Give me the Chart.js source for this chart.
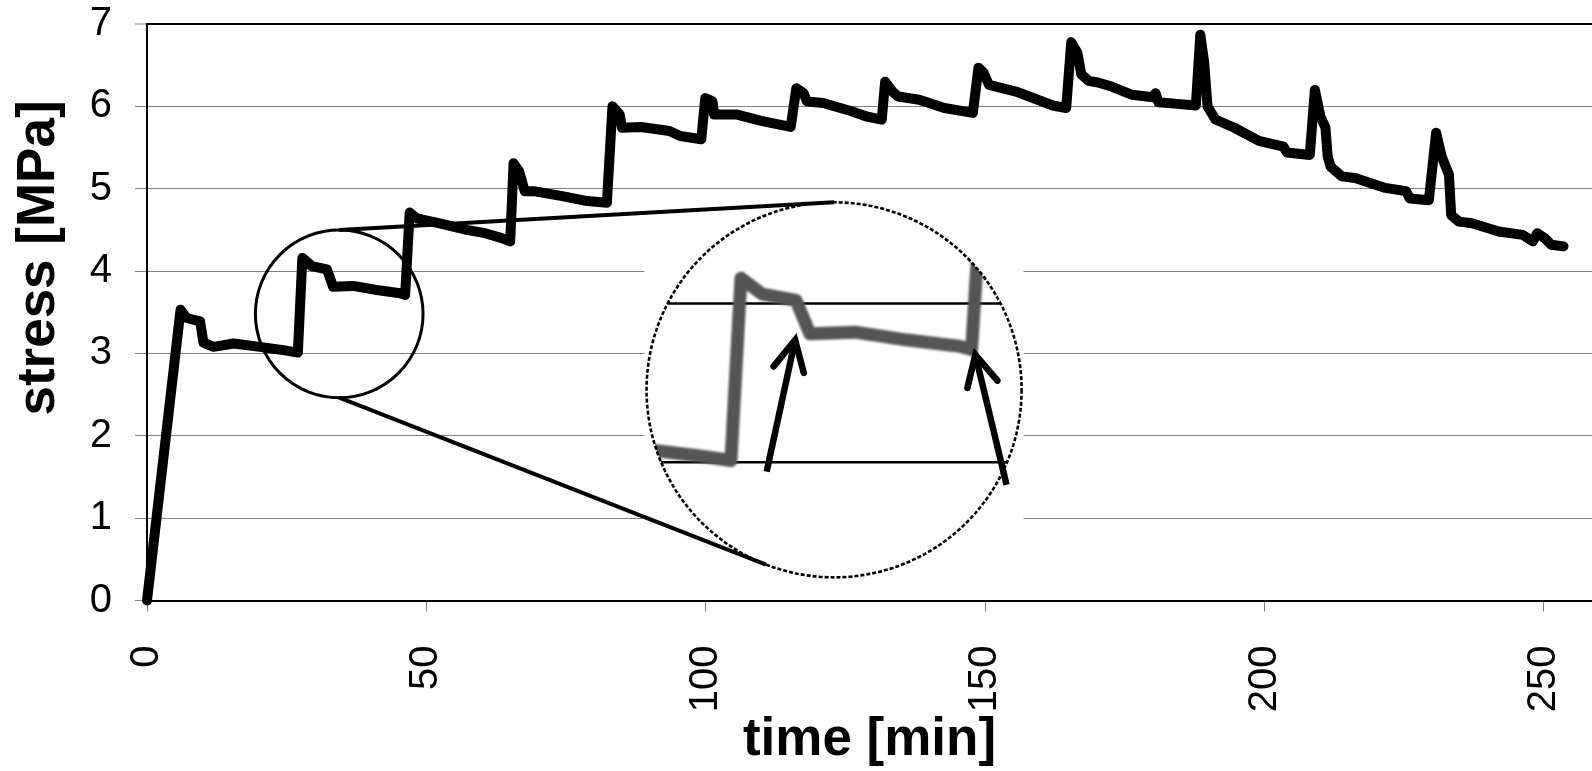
<!DOCTYPE html>
<html>
<head>
<meta charset="utf-8">
<title>stress vs. time</title>
<script src="https://cdn.jsdelivr.net/npm/chart.js@4.4.1/dist/chart.umd.min.js"></script>
<style>
  html, body { margin: 0; padding: 0; background: #fff; }
  #wrap { width: 1592px; height: 771px; }
</style>
</head>
<body>
<div id="wrap"><canvas id="chart" width="1592" height="771"></canvas></div>
<script>
// Stepwise loading record: time [min] against stress [MPa]
const timeMin = [
  0, 6.0, 7.1, 9.5, 10.1, 11.9, 15.5, 20.2, 24.4, 27.0,
  27.8, 29.5, 32.2, 33.3, 36.9, 41.1, 45.3, 46.2,
  47.0, 48.3, 52.4, 57.2, 60.5, 63.5, 65.0,
  65.6, 66.6, 67.6, 69.2, 74.3, 78.8, 82.3,
  83.3, 84.6, 85.0, 88.4, 93.5, 95.4, 99.2,
  99.9, 101.2, 101.5, 105.6, 110.1, 115.2,
  116.2, 117.5, 118.1, 121.0, 126.1, 128.6, 131.5,
  132.1, 133.4, 134.4, 138.2, 142.7, 147.8,
  148.8, 149.7, 150.7, 155.5, 159.4, 162.1, 164.5,
  165.4, 166.5, 167.2, 168.5, 170.2, 172.6, 176.3, 180.0, 180.5, 181.0, 184.4, 187.7,
  188.5, 189.2, 189.8, 191.2, 194.6, 199.0, 203.4, 204.0, 208.1,
  209.0, 210.0, 210.9, 211.3, 211.8, 213.8, 216.2, 221.6, 225.3, 226.0, 229.4,
  230.7, 231.7, 233.0, 233.4, 234.8, 237.1, 241.9, 246.2, 248.0, 248.8, 250.3, 251.3, 253.5
];
const stressMPa = [
  0, 3.53, 3.43, 3.39, 3.13, 3.08, 3.12, 3.08, 3.04, 3.01,
  4.16, 4.06, 4.02, 3.81, 3.82, 3.77, 3.73, 3.71,
  4.71, 4.64, 4.58, 4.50, 4.46, 4.40, 4.36,
  5.31, 5.21, 4.97, 4.97, 4.91, 4.85, 4.83,
  6.00, 5.90, 5.74, 5.75, 5.70, 5.64, 5.60,
  6.10, 6.06, 5.90, 5.90, 5.82, 5.75,
  6.22, 6.16, 6.06, 6.04, 5.94, 5.88, 5.84,
  6.30, 6.18, 6.12, 6.08, 5.98, 5.92,
  6.47, 6.41, 6.26, 6.18, 6.08, 6.01, 5.98,
  6.78, 6.65, 6.39, 6.31, 6.29, 6.24, 6.14, 6.11, 6.16, 6.05, 6.03, 6.01,
  6.87, 6.53, 6.00, 5.84, 5.74, 5.58, 5.51, 5.44, 5.41,
  6.20, 5.88, 5.74, 5.39, 5.27, 5.15, 5.13, 5.01, 4.97, 4.88, 4.86,
  5.68, 5.39, 5.17, 4.68, 4.60, 4.58, 4.48, 4.44, 4.36, 4.46, 4.39, 4.32, 4.30
];
const xTickValues = [0, 50, 100, 150, 200, 250];
const yTickValues = [0, 1, 2, 3, 4, 5, 6, 7];
const xTitle = 'time [min]';
const yTitle = 'stress [MPa]';

// Magnifier callout: a small circle on the curve, enlarged into a big circle.
// Positions are in data units (minutes / MPa); radii in minutes.
const lens = {
  source: { t: 34.4, s: 3.48, r: 15.0 },
  view:   { t: 122.96, s: 2.558, r: 33.56 },
  anchor: { t: 121.1, s: 2.604 },
  zoom:   { x: 2.243, y: 1.925 },
  grid:   [3, 4],
  lowerEdgeDeg: 111.3,
  arrows: [
    { from: [29.85, 2.94],  to: [32.12, 3.77] },
    { from: [48.99, 2.857], to: [46.5, 3.677] }
  ]
};

const FONT = "'Liberation Sans', Arial, Helvetica, sans-serif";
Chart.defaults.font.family = FONT;
Chart.defaults.color = '#000';

function lensGeometry(chart) {
  const xs = chart.scales.x, ys = chart.scales.y;
  const pxPerMin = xs.getPixelForValue(1) - xs.getPixelForValue(0);
  const src = { x: xs.getPixelForValue(lens.source.t), y: ys.getPixelForValue(lens.source.s), r: lens.source.r * pxPerMin };
  const view = { x: xs.getPixelForValue(lens.view.t), y: ys.getPixelForValue(lens.view.s), r: lens.view.r * pxPerMin };
  const anc = { x: xs.getPixelForValue(lens.anchor.t), y: ys.getPixelForValue(lens.anchor.s) };
  const map = (t, s) => ({
    x: anc.x + (xs.getPixelForValue(t) - src.x) * lens.zoom.x,
    y: anc.y + (ys.getPixelForValue(s) - src.y) * lens.zoom.y
  });
  return { src, view, map };
}

const lensPlugin = {
  id: 'lens',
  beforeDatasetsDraw(chart) {
    const ctx = chart.ctx;
    const g = lensGeometry(chart);
    const v = g.view;
    ctx.save();
    // blank patch behind the enlarged view
    ctx.fillStyle = '#fff';
    ctx.fillRect(v.x - v.r - 2, v.y - v.r - 3, 2 * v.r + 4, 2 * v.r + 6);
    ctx.beginPath();
    ctx.arc(v.x, v.y, v.r, 0, Math.PI * 2);
    ctx.clip();
    // enlarged grid lines
    ctx.strokeStyle = '#000';
    ctx.lineWidth = 2.5;
    lens.grid.forEach(s => {
      const y = g.map(0, s).y;
      ctx.beginPath();
      ctx.moveTo(v.x - v.r, y);
      ctx.lineTo(v.x + v.r, y);
      ctx.stroke();
    });
    // enlarged curve
    ctx.filter = 'blur(0.8px)';
    ctx.strokeStyle = '#555555';
    ctx.lineWidth = 13;
    ctx.lineJoin = 'round';
    ctx.lineCap = 'round';
    ctx.beginPath();
    timeMin.forEach((t, i) => {
      const p = g.map(t, stressMPa[i]);
      if (i === 0) ctx.moveTo(p.x, p.y); else ctx.lineTo(p.x, p.y);
    });
    ctx.stroke();
    ctx.filter = 'none';
    ctx.restore();

    // dotted rim
    ctx.save();
    ctx.setLineDash([4, 2]);
    ctx.lineWidth = 2.6;
    ctx.strokeStyle = '#000';
    ctx.beginPath();
    ctx.arc(v.x, v.y, v.r, 0, Math.PI * 2);
    ctx.stroke();
    ctx.restore();

    // arrows inside the enlarged view
    ctx.save();
    ctx.strokeStyle = '#000';
    ctx.lineWidth = 6.5;
    const L = 34, spread = 27 * Math.PI / 180;
    lens.arrows.forEach(a => {
      const p0 = g.map(a.from[0], a.from[1]);
      const p1 = g.map(a.to[0], a.to[1]);
      const ang = Math.atan2(p1.y - p0.y, p1.x - p0.x);
      ctx.lineCap = 'butt';
      ctx.beginPath();
      ctx.moveTo(p0.x, p0.y);
      ctx.lineTo(p1.x, p1.y);
      ctx.stroke();
      ctx.lineJoin = 'miter';
      ctx.lineCap = 'round';
      ctx.beginPath();
      ctx.moveTo(p1.x - L * Math.cos(ang - spread), p1.y - L * Math.sin(ang - spread));
      ctx.lineTo(p1.x, p1.y);
      ctx.lineTo(p1.x - L * Math.cos(ang + spread), p1.y - L * Math.sin(ang + spread));
      ctx.stroke();
    });
    ctx.restore();
  },
  afterDatasetsDraw(chart) {
    const ctx = chart.ctx;
    const g = lensGeometry(chart);
    const s = g.src, v = g.view;
    ctx.save();
    ctx.strokeStyle = '#000';
    ctx.lineWidth = 3;
    ctx.beginPath();
    ctx.arc(s.x, s.y, s.r, 0, Math.PI * 2);
    ctx.stroke();
    ctx.lineWidth = 4;
    const a = lens.lowerEdgeDeg * Math.PI / 180;
    ctx.beginPath();
    ctx.moveTo(s.x, s.y - s.r);
    ctx.lineTo(v.x, v.y - v.r);
    ctx.moveTo(s.x, s.y + s.r);
    ctx.lineTo(v.x + v.r * Math.cos(a), v.y + v.r * Math.sin(a));
    ctx.stroke();
    ctx.restore();
  }
};

// vertical axis title, set a little above the axis middle
const yTitlePlugin = {
  id: 'yTitle',
  afterDraw(chart) {
    const ctx = chart.ctx;
    ctx.save();
    ctx.translate(54, 258);
    ctx.rotate(-Math.PI / 2);
    ctx.font = 'bold 53px ' + FONT;
    ctx.fillStyle = '#000';
    ctx.textAlign = 'center';
    ctx.textBaseline = 'alphabetic';
    ctx.fillText(yTitle, 0, 0);
    ctx.restore();
  }
};

new Chart(document.getElementById('chart'), {
  type: 'line',
  data: {
    datasets: [{
      data: timeMin.map((t, i) => ({ x: t, y: stressMPa[i] })),
      borderColor: '#000',
      borderWidth: 10,
      pointRadius: 0,
      tension: 0,
      fill: false,
      borderJoinStyle: 'round',
      borderCapStyle: 'round',
      clip: false
    }]
  },
  options: {
    responsive: false,
    animation: false,
    devicePixelRatio: 1,
    layout: { padding: { top: 24, right: 0, bottom: 0, left: 0 } },
    plugins: { legend: { display: false }, tooltip: { enabled: false } },
    scales: {
      x: {
        type: 'linear',
        min: 0,
        max: 258.6,
        afterBuildTicks: s => { s.ticks = xTickValues.map(v => ({ value: v })); },
        afterFit: s => { s.height = 170.5; s.paddingLeft = 0; s.paddingRight = 0; },
        grid: { drawOnChartArea: false, drawTicks: true, tickLength: 11, tickColor: '#808080', tickWidth: 1 },
        border: { color: '#000', width: 2 },
        ticks: { autoSkip: false, minRotation: 90, maxRotation: 90, padding: 34, color: '#000', font: { size: 40 } },
        title: { display: true, text: xTitle, color: '#000', font: { size: 53, weight: 'bold', lineHeight: 1.15 }, padding: 0 }
      },
      y: {
        min: 0,
        max: 7,
        afterBuildTicks: s => { s.ticks = yTickValues.map(v => ({ value: v })); },
        afterFit: s => { s.width = 147; s.paddingTop = 0; s.paddingBottom = 0; },
        grid: {
          color: c => (c.tick && (c.tick.value === 7 || c.tick.value === 0)) ? '#000' : '#808080',
          lineWidth: c => (c.tick && c.tick.value === 7) ? 2 : 1,
          drawTicks: true, tickLength: 12, tickColor: '#808080', tickWidth: 1
        },
        border: { color: '#000', width: 2 },
        ticks: { padding: 23, color: '#000', font: { size: 40, lineHeight: 1 } }
      }
    }
  },
  plugins: [lensPlugin, yTitlePlugin]
});
</script>
</body>
</html>
